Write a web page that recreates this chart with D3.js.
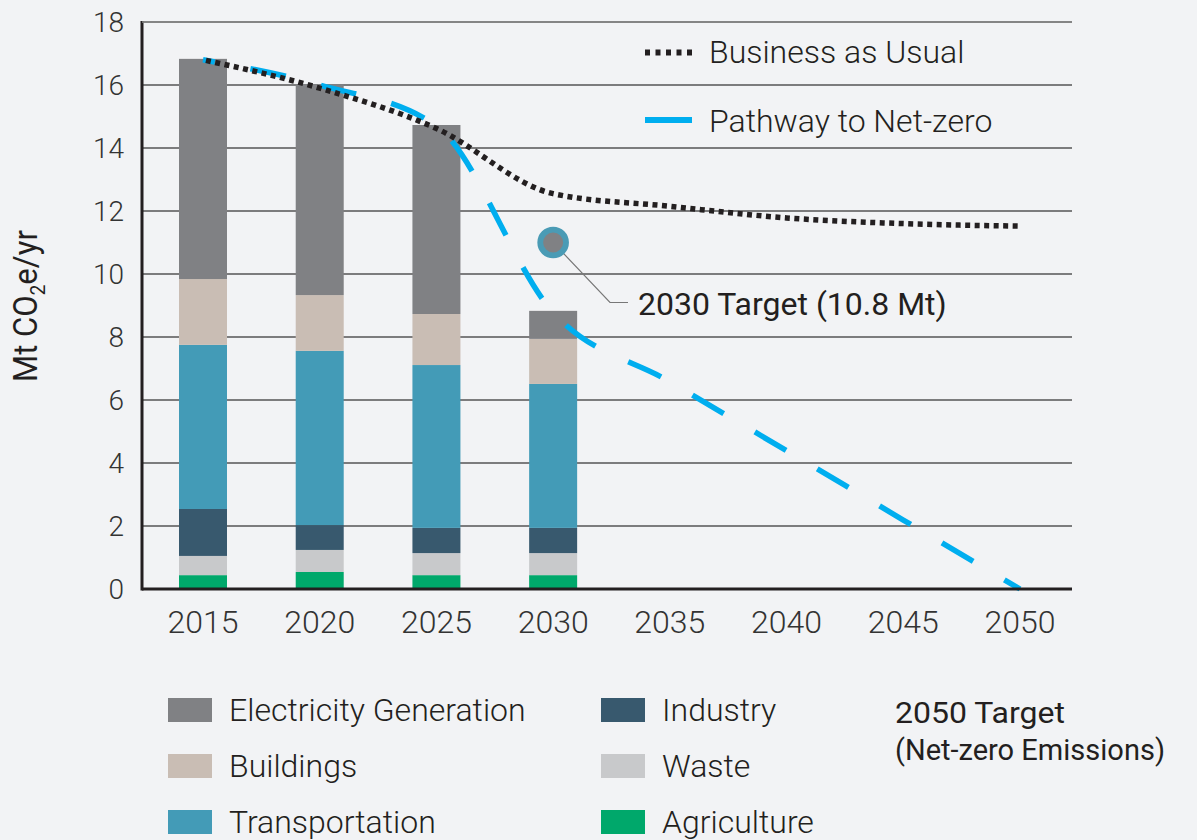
<!DOCTYPE html>
<html>
<head>
<meta charset="utf-8">
<script src="https://cdn.jsdelivr.net/npm/d3@7"></script>
<style>
  html, body { margin: 0; padding: 0; background: #f2f3f5; }
  svg { display: block; font-family: Roboto, "Noto Sans", sans-serif; }
</style>
</head>
<body>
<svg id="chart" width="1197" height="840"></svg>
<script>
// ---- data ----
const years = ["2015","2020","2025","2030","2035","2040","2045","2050"];
const barYears = ["2015","2020","2025","2030"];
const sectors = ["Agriculture","Waste","Industry","Transportation","Buildings","Electricity Generation"];
const agriculture = [0.44, 0.54, 0.44, 0.44];
const waste       = [0.61, 0.70, 0.70, 0.70];
const industry    = [1.49, 0.79, 0.80, 0.80];
const transport   = [5.21, 5.53, 5.17, 4.57];
const buildings   = [2.09, 1.77, 1.62, 1.43];
const electricity = [6.99, 6.70, 6.00, 0.89];
const businessAsUsual = [16.8, 15.9, 14.62, 12.55, 12.15, 11.78, 11.6, 11.52];
const netZeroPathway  = [16.8, 16.0, 14.7, 8.78, 6.58, 4.39, 2.19, 0];
const target2030 = 11.0;
const yTicks = [0,2,4,6,8,10,12,14,16,18];
const sectorColors = ["#00a86b","#c8c9cb","#38596e","#439bb7","#c9bdb4","#808184"];

const svg = d3.select("#chart");
const pLeft = 142, pRight = 1072, pTop = 22, pBottom = 589;

const x = d3.scalePoint().domain(years).range([203, 1020]);
const y = d3.scaleLinear().domain([0, 18]).range([pBottom, pTop]);
const barW = 48;

// gridlines
const grid = svg.append("g");
grid.selectAll("line").data(yTicks.filter(d => d > 0)).join("line")
  .attr("x1", pLeft).attr("x2", pRight)
  .attr("y1", d => y(d)).attr("y2", d => y(d))
  .attr("stroke", "#555").attr("stroke-width", 1.4);

// stacked bars
const rows = barYears.map((yr, i) => ({
  year: yr,
  "Agriculture": agriculture[i], "Waste": waste[i], "Industry": industry[i],
  "Transportation": transport[i], "Buildings": buildings[i], "Electricity Generation": electricity[i]
}));
const stack = d3.stack().keys(sectors)(rows);
const color = d3.scaleOrdinal().domain(sectors).range(sectorColors);
svg.append("g").selectAll("g").data(stack).join("g")
  .attr("fill", d => color(d.key))
  .selectAll("rect").data(d => d).join("rect")
  .attr("x", d => x(d.data.year) - barW / 2)
  .attr("width", barW)
  .attr("y", d => y(d[1]))
  .attr("height", d => y(d[0]) - y(d[1]));

// lines
const line = d3.line().x((d, i) => x(years[i])).y(d => y(d)).curve(d3.curveMonotoneX);
const nz = svg.append("path").datum(netZeroPathway)
  .attr("d", line).attr("fill", "none")
  .attr("stroke", "#00aeef").attr("stroke-width", 5.5);
// dash pattern: start with a short dash, end with a short dash at the 2050 point
const L = nz.node().getTotalLength();
const k = Math.max(1, Math.round((L + 6) / 74));
const P = (L + 6) / k;
nz.attr("stroke-dasharray", `${P / 2},${P / 2}`).attr("stroke-dashoffset", P / 2 - 12);

svg.append("path").datum(businessAsUsual)
  .attr("d", line).attr("fill", "none")
  .attr("stroke", "#231f20").attr("stroke-width", 5.5)
  .attr("stroke-dasharray", "5,4.5").attr("stroke-dashoffset", -3);

// axes lines
svg.append("line").attr("x1", pLeft).attr("x2", pLeft).attr("y1", pTop - 1).attr("y2", pBottom + 1.5)
  .attr("stroke", "#231f20").attr("stroke-width", 3);
svg.append("line").attr("x1", pLeft).attr("x2", pRight).attr("y1", pBottom).attr("y2", pBottom)
  .attr("stroke", "#231f20").attr("stroke-width", 3);
svg.append("line").attr("x1", pLeft).attr("x2", pRight).attr("y1", y(18)).attr("y2", y(18))
  .attr("stroke", "#888").attr("stroke-width", 1.5);

// y tick labels
svg.append("g").selectAll("text").data(yTicks).join("text")
  .attr("x", 124).attr("y", d => y(d)).attr("dy", "0.36em")
  .attr("text-anchor", "end").attr("font-size", 28).attr("font-weight", 300)
  .attr("fill", "#333").text(d => d);

// x tick labels
svg.append("g").selectAll("text").data(years).join("text")
  .attr("x", d => x(d)).attr("y", 633)
  .attr("text-anchor", "middle").attr("font-size", 32).attr("font-weight", 300)
  .attr("fill", "#333").text(d => d);

// y axis title (condensed look, fitted to the reference length)
const yt = svg.append("text")
  .attr("text-anchor", "middle").attr("font-size", 33).attr("fill", "#231f20");
yt.append("tspan").text("Mt CO");
yt.append("tspan").attr("font-size", 20).attr("dy", 8).text("2");
yt.append("tspan").attr("dy", -8).text("e/yr");
const ytLen = yt.node().getBBox().width;
const ytScale = 152 / ytLen;
yt.attr("transform", `translate(37,306) rotate(-90) scale(${ytScale},1)`);

// target marker
svg.append("polyline")
  .attr("points", [[x("2030"), y(target2030)], [610, 302.5], [628, 302.5]].map(p => p.join(",")).join(" "))
  .attr("fill", "none").attr("stroke", "#777").attr("stroke-width", 1.2);
svg.append("circle").attr("cx", x("2030")).attr("cy", y(target2030)).attr("r", 12.9)
  .attr("fill", "#808184").attr("stroke", "#4a9bb5").attr("stroke-width", 5.8);
svg.append("text").attr("x", 638).attr("y", 315).attr("font-size", 32)
  .attr("fill", "#231f20").text("2030 Target (10.8 Mt)");

// top legend
svg.append("line").attr("x1", 645).attr("x2", 692).attr("y1", 52.5).attr("y2", 52.5)
  .attr("stroke", "#231f20").attr("stroke-width", 6).attr("stroke-dasharray", "5,5.5");
svg.append("text").attr("x", 709).attr("y", 63).attr("font-size", 32).attr("font-weight", 300)
  .attr("fill", "#231f20").text("Business as Usual");
svg.append("line").attr("x1", 645).attr("x2", 692).attr("y1", 120).attr("y2", 120)
  .attr("stroke", "#00aeef").attr("stroke-width", 6);
svg.append("text").attr("x", 709).attr("y", 132).attr("font-size", 32).attr("font-weight", 300)
  .attr("fill", "#231f20").text("Pathway to Net-zero");

// bottom legend
const legendOrder = ["Electricity Generation","Buildings","Transportation","Industry","Waste","Agriculture"];
const lg = svg.append("g").selectAll("g").data(legendOrder).join("g")
  .attr("transform", (d, i) => `translate(${i < 3 ? 168 : 601},${698 + (i % 3) * 56})`);
lg.append("rect").attr("width", 44).attr("height", 24).attr("fill", d => color(d));
lg.append("text").attr("x", 61).attr("y", 23).attr("font-size", 32).attr("font-weight", 300)
  .attr("fill", "#231f20").text(d => d);

// 2050 target note
const note = svg.append("g").attr("font-size", 30).attr("fill", "#231f20");
note.append("text").attr("x", 895).attr("y", 723)
  .attr("textLength", 170).attr("lengthAdjust", "spacingAndGlyphs").text("2050 Target");
note.append("text").attr("x", 895).attr("y", 760)
  .attr("textLength", 270).attr("lengthAdjust", "spacingAndGlyphs").text("(Net-zero Emissions)");
</script>
</body>
</html>
